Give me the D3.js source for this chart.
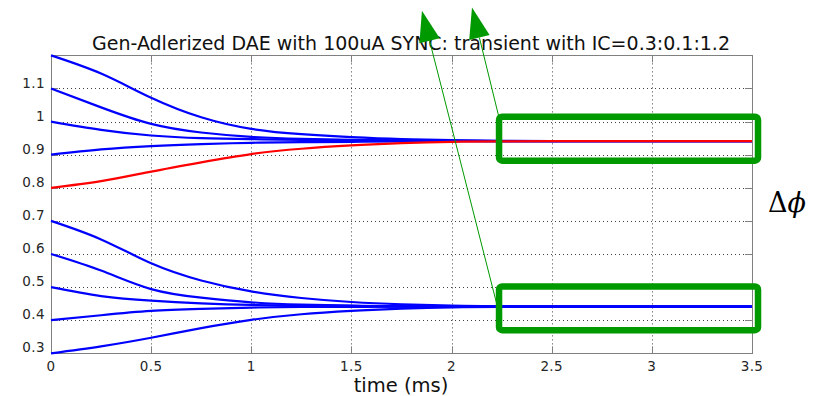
<!DOCTYPE html>
<html>
<head>
<meta charset="utf-8">
<script src="https://cdn.jsdelivr.net/npm/d3@7"></script>
<style>
  body { margin: 0; background: #fff; }
</style>
</head>
<body>
<script>
// time samples (ms) and phase traces, one per initial condition
const times = [0, 0.25, 0.5, 0.75, 1, 1.25, 1.5, 1.75, 2, 2.25, 2.5, 3, 3.5];
const ic12 = [1.20, 1.145, 1.072, 1.013, 0.978, 0.962, 0.953, 0.947, 0.944, 0.942, 0.941, 0.941, 0.941];
const ic11 = [1.10, 1.043, 0.993, 0.967, 0.954, 0.948, 0.945, 0.943, 0.942, 0.941, 0.941, 0.941, 0.941];
const ic10 = [1.00, 0.975, 0.958, 0.950, 0.947, 0.945, 0.943, 0.942, 0.942, 0.941, 0.941, 0.941, 0.941];
const ic09 = [0.90, 0.916, 0.926, 0.932, 0.936, 0.938, 0.939, 0.940, 0.941, 0.941, 0.941, 0.941, 0.941];
const ic08 = [0.80, 0.820, 0.849, 0.877, 0.902, 0.918, 0.928, 0.935, 0.939, 0.940, 0.941, 0.941, 0.941];
const ic07 = [0.70, 0.644, 0.572, 0.520, 0.487, 0.467, 0.455, 0.448, 0.444, 0.442, 0.441, 0.441, 0.441];
const ic06 = [0.60, 0.550, 0.494, 0.468, 0.454, 0.447, 0.444, 0.442, 0.441, 0.441, 0.441, 0.441, 0.441];
const ic05 = [0.50, 0.473, 0.459, 0.451, 0.446, 0.444, 0.443, 0.442, 0.441, 0.441, 0.441, 0.441, 0.441];
const ic04 = [0.40, 0.415, 0.428, 0.434, 0.438, 0.440, 0.440, 0.441, 0.441, 0.441, 0.441, 0.441, 0.441];
const ic03 = [0.30, 0.321, 0.347, 0.376, 0.401, 0.418, 0.428, 0.435, 0.439, 0.440, 0.441, 0.441, 0.441];

const xTicks = [0, 0.5, 1, 1.5, 2, 2.5, 3, 3.5];
const yTicks = [0.3, 0.4, 0.5, 0.6, 0.7, 0.8, 0.9, 1, 1.1];

// highlight boxes [t0, t1, phiTop, phiBottom] and arrows [tFrom, phiFrom, tTip, phiTip]
const boxes = [[2.237, 3.53, 1.015, 0.882], [2.237, 3.53, 0.502, 0.370]];
const arrows = [[2.229, 0.441, 1.852, 1.335], [2.237, 1.012, 2.102, 1.345]];

const W = 828, H = 396;
const pLeft = 51, pRight = 752, pTop = 55.4, pBottom = 353.3;
const green = "#009900";
const sans = "'DejaVu Sans', sans-serif";

const svg = d3.select("body").append("svg")
  .attr("width", W).attr("height", H);

const x = d3.scaleLinear().domain([0, 3.5]).range([pLeft, pRight]);
const y = d3.scaleLinear().domain([0.3, 1.2]).range([pBottom, pTop]);

// grid
svg.append("g").selectAll("line")
  .data(xTicks.filter(d => d > 0 && d < 3.5))
  .enter().append("line")
    .attr("x1", d => Math.round(x(d)) + 0.5).attr("x2", d => Math.round(x(d)) + 0.5)
    .attr("y1", pTop).attr("y2", pBottom)
    .attr("stroke", "#000").attr("stroke-opacity", 0.75)
    .attr("stroke-dasharray", "1,3");
svg.append("g").selectAll("line")
  .data(yTicks.filter(d => d > 0.3))
  .enter().append("line")
    .attr("y1", d => Math.round(y(d)) + 0.5).attr("y2", d => Math.round(y(d)) + 0.5)
    .attr("x1", pLeft).attr("x2", pRight)
    .attr("stroke", "#000").attr("stroke-opacity", 0.75)
    .attr("stroke-dasharray", "1,3");

// axis box and inward ticks
const axisCol = "#808080";
svg.append("rect")
  .attr("x", pLeft + 0.5).attr("y", Math.round(pTop) + 0.5)
  .attr("width", pRight - pLeft).attr("height", Math.round(pBottom) - Math.round(pTop))
  .attr("fill", "none").attr("stroke", axisCol);
const tk = svg.append("g").attr("stroke", axisCol);
xTicks.forEach(d => {
  const px = Math.round(x(d)) + 0.5;
  tk.append("line").attr("x1", px).attr("x2", px).attr("y1", pBottom).attr("y2", pBottom - 7);
  tk.append("line").attr("x1", px).attr("x2", px).attr("y1", pTop).attr("y2", pTop + 7);
});
yTicks.forEach(d => {
  const py = Math.round(y(d)) + 0.5;
  tk.append("line").attr("y1", py).attr("y2", py).attr("x1", pLeft).attr("x2", pLeft + 7);
  tk.append("line").attr("y1", py).attr("y2", py).attr("x1", pRight).attr("x2", pRight - 7);
});

// tick labels
svg.append("g").selectAll("text")
  .data(xTicks).enter().append("text")
    .attr("x", d => x(d)).attr("y", pBottom + 18)
    .attr("text-anchor", "middle").style("font-family", sans).style("font-size", "13.5px")
    .style("letter-spacing", "0.4px").attr("fill", "#262626")
    .text(d => d);
svg.append("g").selectAll("text")
  .data(yTicks).enter().append("text")
    .attr("x", pLeft - 6).attr("y", d => y(d) - 1)
    .attr("text-anchor", "end").style("font-family", sans).style("font-size", "13.5px")
    .style("letter-spacing", "0.4px").attr("fill", "#262626")
    .text(d => d);

// traces
const line = d3.line()
  .x((d, i) => x(times[i]))
  .y(d => y(d))
  .curve(d3.curveNatural);

const blue = [ic12, ic11, ic10, ic09, ic07, ic06, ic05, ic04, ic03];
svg.append("g").selectAll("path")
  .data(blue).enter().append("path")
    .attr("d", line)
    .attr("fill", "none").attr("stroke", "#0000ff").attr("stroke-width", 2.2);
svg.append("path")
  .attr("d", line(ic08))
  .attr("fill", "none").attr("stroke", "#ff0000").attr("stroke-width", 2.2);

// title and x label
svg.append("text")
  .attr("x", 411).attr("y", 50)
  .attr("text-anchor", "middle").style("font-family", sans).style("font-size", "19px").attr("fill", "#111")
  .text("Gen-Adlerized DAE with 100uA SYNC: transient with IC=0.3:0.1:1.2");
svg.append("text")
  .attr("x", 401).attr("y", 392)
  .attr("text-anchor", "middle").style("font-family", sans).style("font-size", "19.5px").attr("fill", "#111")
  .text("time (ms)");

// green boxes
svg.append("g").selectAll("rect")
  .data(boxes).enter().append("rect")
    .attr("x", d => x(d[0])).attr("y", d => y(d[2]))
    .attr("width", d => x(d[1]) - x(d[0])).attr("height", d => y(d[3]) - y(d[2]))
    .attr("rx", 3)
    .attr("fill", "none").attr("stroke", green).attr("stroke-width", 6.5);

// arrows
arrows.forEach(a => {
  const x0 = x(a[0]), y0 = y(a[1]), x1 = x(a[2]), y1 = y(a[3]);
  const ang = Math.atan2(y1 - y0, x1 - x0);
  const len = 31, hw = 10.5;
  const bx = x1 - len * Math.cos(ang), by = y1 - len * Math.sin(ang);
  svg.append("line")
    .attr("x1", x0).attr("y1", y0).attr("x2", bx).attr("y2", by)
    .attr("stroke", green).attr("stroke-width", 1);
  const nx = -Math.sin(ang), ny = Math.cos(ang);
  svg.append("path")
    .attr("d", `M${x1},${y1}L${bx + nx * hw},${by + ny * hw}L${bx - nx * hw},${by - ny * hw}Z`)
    .attr("fill", green);
});

// delta phi label
const lab = svg.append("text")
  .attr("x", 768).attr("y", 212)
  .style("font-family", "'DejaVu Serif', serif").style("font-size", "27px").attr("fill", "#000");
lab.append("tspan").text("Δ");
lab.append("tspan").style("font-style", "italic").text("ϕ");
</script>
</body>
</html>
